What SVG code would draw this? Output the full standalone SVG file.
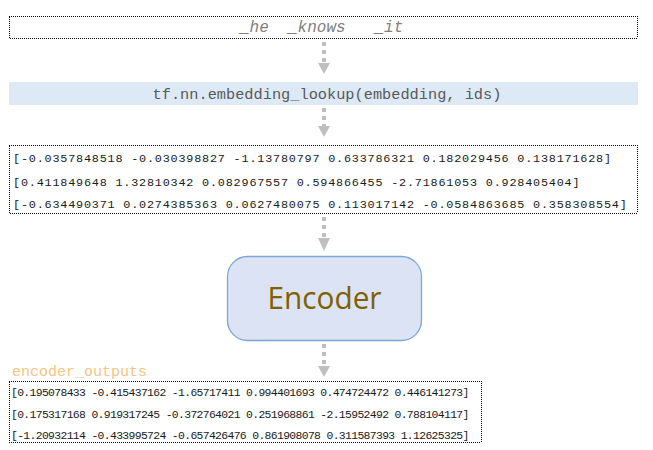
<svg xmlns="http://www.w3.org/2000/svg" width="653" height="450" viewBox="0 0 653 450">
  <defs>
    <style>
      .dot { fill: none; stroke: #000; stroke-width: 1; stroke-dasharray: 1 1; shape-rendering: crispEdges; }
      .mono { font-family: "Liberation Mono", "Courier New", monospace; }
      .num { font-size: 11.8px; letter-spacing: 0.8px; fill: #1a1a1a; }
      .num2 { font-size: 11.4px; letter-spacing: -0.65px; fill: #1a1a1a; }
      .conn line { stroke: #bfbfbf; stroke-width: 4; stroke-dasharray: 4 4; }
      .conn polygon { fill: #bfbfbf; }
    </style>
  </defs>
  <rect width="653" height="450" fill="#fff"/>

  <g id="tokens">
    <rect class="dot" x="9" y="16" width="628" height="22"/>
    <text class="mono" x="240" y="32" font-size="16" font-style="italic" fill="#808080" xml:space="preserve">_he  _knows   _it</text>
  </g>

  <g id="lookup">
    <rect x="9" y="82" width="629" height="23" fill="#ddeaf6"/>
    <text class="mono" x="327" y="99" font-size="15.3" fill="#595959" text-anchor="middle">tf.nn.embedding_lookup(embedding, ids)</text>
  </g>

  <g id="embeddings">
    <rect class="dot" x="9" y="145" width="628" height="68"/>
    <text class="mono num" x="13" y="162">[-0.0357848518 -0.030398827 -1.13780797 0.633786321 0.182029456 0.138171628]</text>
    <text class="mono num" x="13" y="186">[0.411849648 1.32810342 0.082967557 0.594866455 -2.71861053 0.928405404]</text>
    <text class="mono num" x="13" y="208">[-0.634490371 0.0274385363 0.0627480075 0.113017142 -0.0584863685 0.358308554]</text>
  </g>

  <g id="encoder">
    <rect x="227.5" y="256.5" width="194" height="84" rx="20" fill="#dce3f4" stroke="#7ea6d5" stroke-width="1.3"/>
    <text x="324.5" y="309" font-family="Open Sans, Noto Sans, sans-serif" font-size="31" fill="#7f6000" text-anchor="middle" textLength="114" lengthAdjust="spacingAndGlyphs">Encoder</text>
  </g>

  <g id="outputs">
    <text class="mono" x="12" y="376" font-size="15" fill="#f5c582">encoder_outputs</text>
    <rect class="dot" x="9" y="381" width="472" height="61"/>
    <text class="mono num2" x="11" y="396">[0.195078433 -0.415437162 -1.65717411 0.994401693 0.474724472 0.446141273]</text>
    <text class="mono num2" x="11" y="418">[0.175317168 0.919317245 -0.372764021 0.251968861 -2.15952492 0.788104117]</text>
    <text class="mono num2" x="11" y="439">[-1.20932114 -0.433995724 -0.657426476 0.861908078 0.311587393 1.12625325]</text>
  </g>

  <g id="connectors" class="conn">
    <line x1="324" y1="42" x2="324" y2="64"/>
    <polygon points="318,63 330,63 324,74"/>
    <line x1="324" y1="108" x2="324" y2="127"/>
    <polygon points="318,126 330,126 324,137"/>
    <line x1="324" y1="217" x2="324" y2="239"/>
    <polygon points="318,238 330,238 324,251"/>
    <line x1="324" y1="344" x2="324" y2="366"/>
    <polygon points="318,366 330,366 324,377"/>
  </g>
</svg>
